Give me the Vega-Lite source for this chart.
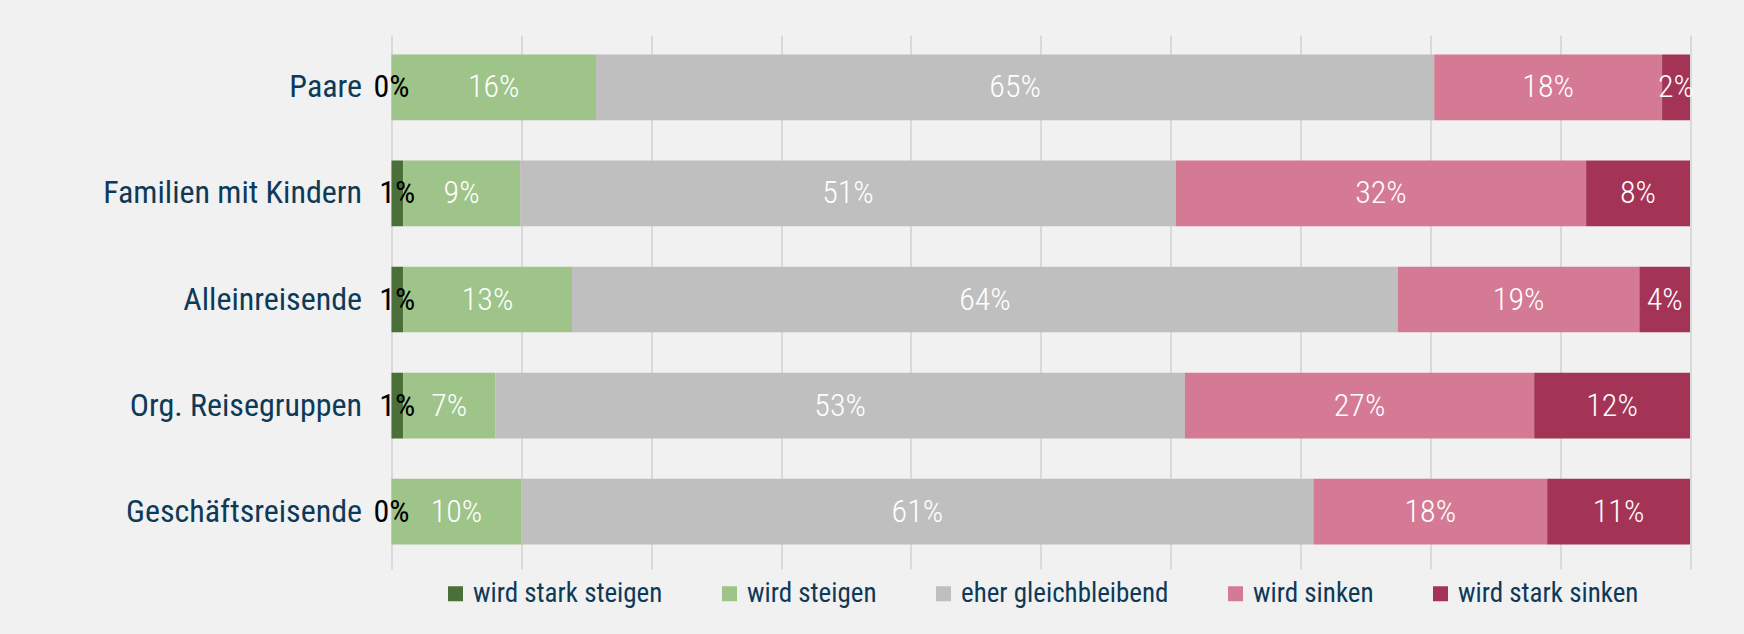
{
  "$schema": "https://vega.github.io/schema/vega-lite/v6.json",
  "autosize": {"type": "none"},
  "width": 1298.5,
  "height": 529,
  "padding": {"left": 391.5, "top": 35, "right": 54, "bottom": 70},
  "background": "#f1f1f1",
  "config": {
    "view": {"stroke": null},
    "font": "Roboto Condensed, Liberation Sans Narrow, DejaVu Sans Condensed, Roboto, sans-serif"
  },
  "data": {
    "values": [
      {"group": "Paare", "cat": "wird stark steigen", "order": 1, "value": 0.0},
      {"group": "Paare", "cat": "wird steigen", "order": 2, "value": 0.1575},
      {"group": "Paare", "cat": "eher gleichbleibend", "order": 3, "value": 0.6455},
      {"group": "Paare", "cat": "wird sinken", "order": 4, "value": 0.1755},
      {"group": "Paare", "cat": "wird stark sinken", "order": 5, "value": 0.0215},
      {"group": "Familien mit Kindern", "cat": "wird stark steigen", "order": 1, "value": 0.009},
      {"group": "Familien mit Kindern", "cat": "wird steigen", "order": 2, "value": 0.09},
      {"group": "Familien mit Kindern", "cat": "eher gleichbleibend", "order": 3, "value": 0.505},
      {"group": "Familien mit Kindern", "cat": "wird sinken", "order": 4, "value": 0.316},
      {"group": "Familien mit Kindern", "cat": "wird stark sinken", "order": 5, "value": 0.08},
      {"group": "Alleinreisende", "cat": "wird stark steigen", "order": 1, "value": 0.009},
      {"group": "Alleinreisende", "cat": "wird steigen", "order": 2, "value": 0.13},
      {"group": "Alleinreisende", "cat": "eher gleichbleibend", "order": 3, "value": 0.636},
      {"group": "Alleinreisende", "cat": "wird sinken", "order": 4, "value": 0.186},
      {"group": "Alleinreisende", "cat": "wird stark sinken", "order": 5, "value": 0.039},
      {"group": "Org. Reisegruppen", "cat": "wird stark steigen", "order": 1, "value": 0.009},
      {"group": "Org. Reisegruppen", "cat": "wird steigen", "order": 2, "value": 0.071},
      {"group": "Org. Reisegruppen", "cat": "eher gleichbleibend", "order": 3, "value": 0.531},
      {"group": "Org. Reisegruppen", "cat": "wird sinken", "order": 4, "value": 0.269},
      {"group": "Org. Reisegruppen", "cat": "wird stark sinken", "order": 5, "value": 0.12},
      {"group": "Geschäftsreisende", "cat": "wird stark steigen", "order": 1, "value": 0.0},
      {"group": "Geschäftsreisende", "cat": "wird steigen", "order": 2, "value": 0.1},
      {"group": "Geschäftsreisende", "cat": "eher gleichbleibend", "order": 3, "value": 0.61},
      {"group": "Geschäftsreisende", "cat": "wird sinken", "order": 4, "value": 0.18},
      {"group": "Geschäftsreisende", "cat": "wird stark sinken", "order": 5, "value": 0.11}
    ]
  },
  "transform": [
    {"stack": "value", "groupby": ["group"], "sort": [{"field": "order"}], "as": ["v0", "v1"]},
    {"calculate": "(datum.v0 + datum.v1) / 2", "as": "mid"}
  ],
  "encoding": {
    "y": {
      "field": "group",
      "type": "nominal",
      "sort": ["Paare", "Familien mit Kindern", "Alleinreisende", "Org. Reisegruppen", "Geschäftsreisende"],
      "scale": {"paddingInner": 0.38, "paddingOuter": 0.185},
      "axis": {
        "title": null,
        "domain": false,
        "ticks": false,
        "labelFontSize": 32,
        "labelColor": "#0d3a58",
        "labelPadding": 30,
        "labelLimit": 0
      }
    }
  },
  "layer": [
    {
      "mark": {"type": "bar"},
      "encoding": {
        "x": {
          "field": "v0",
          "type": "quantitative",
          "scale": {"domain": [0, 1], "nice": false},
          "axis": {
            "title": null,
            "labels": false,
            "domain": false,
            "ticks": true,
            "tickSize": 5,
            "tickColor": "#d9d9d9",
            "tickWidth": 2,
            "gridColor": "#d9d9d9",
            "gridWidth": 2,
            "values": [0, 0.1, 0.2, 0.3, 0.4, 0.5, 0.6, 0.7, 0.8, 0.9, 1]
          }
        },
        "x2": {"field": "v1"},
        "color": {
          "field": "cat",
          "type": "nominal",
          "sort": ["wird stark steigen", "wird steigen", "eher gleichbleibend", "wird sinken", "wird stark sinken"],
          "scale": {
            "domain": ["wird stark steigen", "wird steigen", "eher gleichbleibend", "wird sinken", "wird stark sinken"],
            "range": ["#4a6f38", "#9ec489", "#bfbfbf", "#d47a95", "#a43456"]
          },
          "legend": {
            "orient": "none",
            "legendX": 50.5,
            "legendY": 545,
            "direction": "horizontal",
            "title": null,
            "symbolType": "square",
            "symbolSize": 225,
            "symbolStrokeWidth": 0,
            "labelFontSize": 27,
            "labelColor": "#0d3a58",
            "labelOffset": 4,
            "columnPadding": 53,
            "labelLimit": 0
          }
        }
      }
    },
    {
      "transform": [{"filter": "datum.cat !== 'wird stark steigen'"}],
      "mark": {"type": "text", "fontSize": 32, "fontWeight": 300, "baseline": "middle", "align": "center", "color": "#ffffff"},
      "encoding": {
        "x": {"field": "mid", "type": "quantitative"},
        "text": {"field": "value", "type": "quantitative", "format": ".0%"}
      }
    },
    {
      "transform": [{"filter": "datum.cat === 'wird stark steigen'"}],
      "mark": {"type": "text", "fontSize": 32, "fontWeight": 400, "baseline": "middle", "align": "center", "color": "#000000"},
      "encoding": {
        "x": {"field": "mid", "type": "quantitative"},
        "text": {"field": "value", "type": "quantitative", "format": ".0%"}
      }
    }
  ]
}
